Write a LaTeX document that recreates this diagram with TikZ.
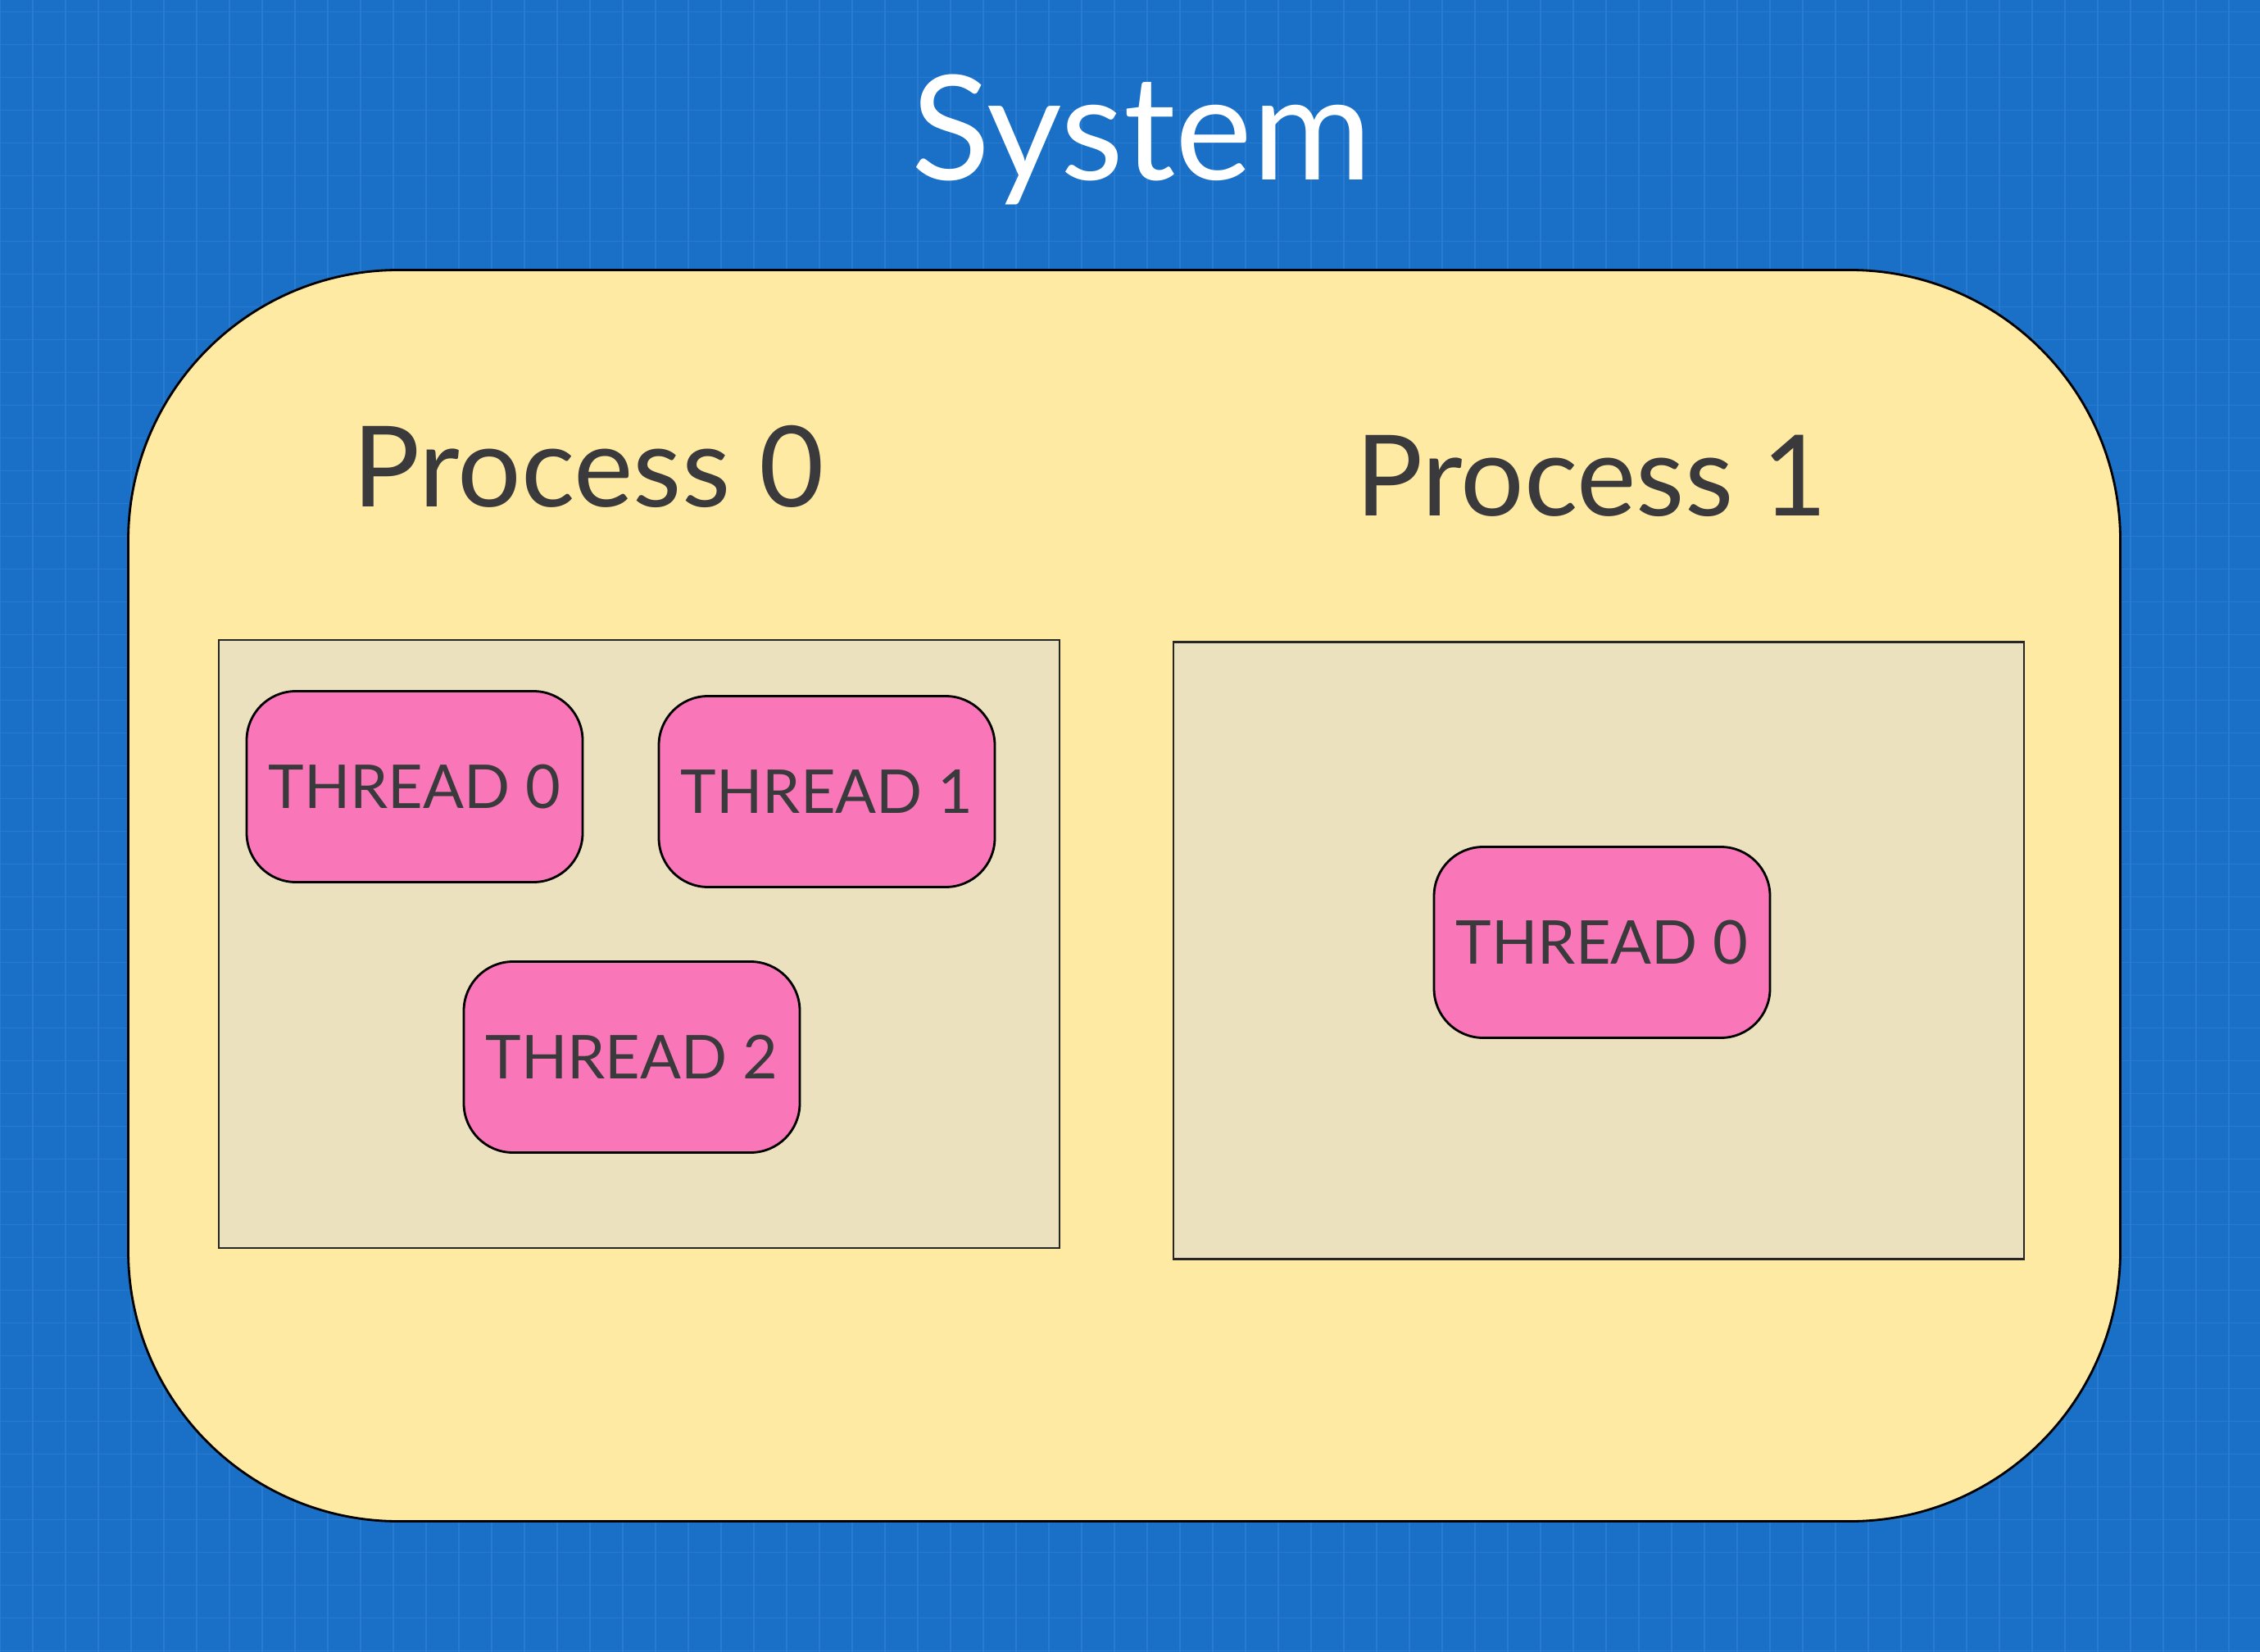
\documentclass[tikz,border=0pt]{standalone}
\usepackage{fontspec}
\setmainfont{Lato}
\usepackage{tikz}
\usepackage{xcolor}

\definecolor{bgblue}{RGB}{26,112,198}
\definecolor{gridblue}{RGB}{40,123,207}
\definecolor{sysyellow}{RGB}{255,234,164}
\definecolor{procbeige}{RGB}{235,225,190}
\definecolor{thrpink}{RGB}{249,119,185}
\definecolor{inkgray}{RGB}{58,58,60}

\tikzset{
  sysbox/.style={draw=black,line width=0.8pt,fill=sysyellow,rounded corners=3.3cm,
    minimum width=24.31cm,minimum height=15.27cm},
  procbox/.style={draw=black!85,line width=0.8pt,fill=procbeige},
  thrbox/.style={draw=black,line width=0.8pt,fill=thrpink,rounded corners=0.6cm,inner sep=0pt,
    minimum width=4.1cm,minimum height=2.33cm,text=inkgray,font=\fontsize{21}{25}\selectfont},
  proclabel/.style={anchor=base,text=inkgray,font=\fontsize{39}{44}\selectfont},
}

\begin{document}
\begin{tikzpicture}[line cap=round]
\useasboundingbox (0,0) rectangle (27.58,-20.16);
\fill[bgblue] (0,0) rectangle (27.58,-20.16);
\begin{scope}
\clip (0,0) rectangle (27.58,-20.16);
\draw[gridblue,line width=0.4pt,yshift=-0.143cm] (0,0.4) grid[step=0.4] (27.6,-20.4);
\end{scope}
% outer system frame
\node[sysbox] (sys) at (13.72,-10.93) {};
\node[anchor=base,text=white,font=\fontsize{50.5}{56}\selectfont] (systitle) at (13.93,-2.20) {System};
% the two processes
\node[procbox,minimum width=10.26cm,minimum height=7.42cm] (proc0) at (7.80,-11.52) {};
\node[procbox,minimum width=10.38cm,minimum height=7.53cm] (proc1) at (19.51,-11.60) {};
\node[proclabel] (proc0lbl) at (7.18,-6.19) {Process 0};
\node[proclabel] (proc1lbl) at (19.42,-6.30) {Process 1};
% threads
\node[thrbox] (thrA) at (5.06,-9.60) {THREAD 0};
\node[thrbox] (thrB) at (10.09,-9.66) {THREAD 1};
\node[thrbox] (thrC) at (7.71,-12.90) {THREAD 2};
\node[thrbox] (thrD) at (19.55,-11.50) {THREAD 0};
\end{tikzpicture}
\end{document}
